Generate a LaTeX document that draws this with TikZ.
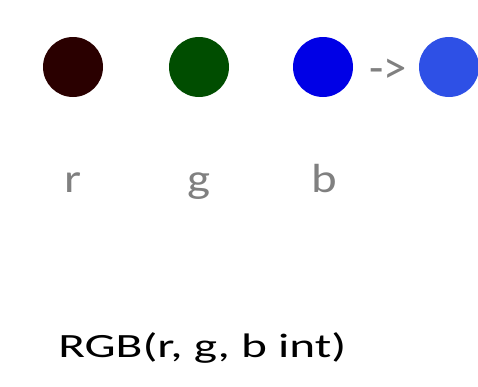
\documentclass[tikz,border=0pt]{standalone}
\usepackage{fontspec}
\setmainfont{Carlito}
\newfontfamily\labelfont[FakeStretch=1.2]{Carlito}
\newfontfamily\callfont[FakeStretch=1.45]{Carlito}
\definecolor{dotred}{HTML}{2A0000}
\definecolor{dotgreen}{HTML}{004D00}
\definecolor{dotblue}{HTML}{0000E6}
\definecolor{dotmix}{HTML}{2E50E6}
\definecolor{labelgray}{HTML}{808080}
\tikzset{
    dot/.style={circle,inner sep=0pt,minimum size=45pt},
    chan/.style={text=labelgray,font=\labelfont\fontsize{30.5}{36}\selectfont,anchor=base}
}
\begin{document}
\begin{tikzpicture}[x=0.75pt,y=-0.75pt]
    \useasboundingbox (0,0) rectangle (478,386);
    \node[dot,fill=dotred] (R) at (73,67) {};
    \node[dot,fill=dotgreen] (G) at (199,67) {};
    \node[dot,fill=dotblue] (B) at (323,67) {};
    \node[dot,fill=dotmix] (C) at (449,67) {};
    \node[text=labelgray,font=\fontsize{35}{40}\selectfont] (arr) at (388,71) {->};
    \node[chan] (r) at (73,192) {r};
    \node[chan] (g) at (199,192) {g};
    \node[chan] (b) at (324,192) {b};
    \node[font=\callfont\fontsize{25.5}{30}\selectfont,anchor=base west,inner sep=0pt] (rgb) at (58,357) {RGB(r, g, b int)};
\end{tikzpicture}
\end{document}
